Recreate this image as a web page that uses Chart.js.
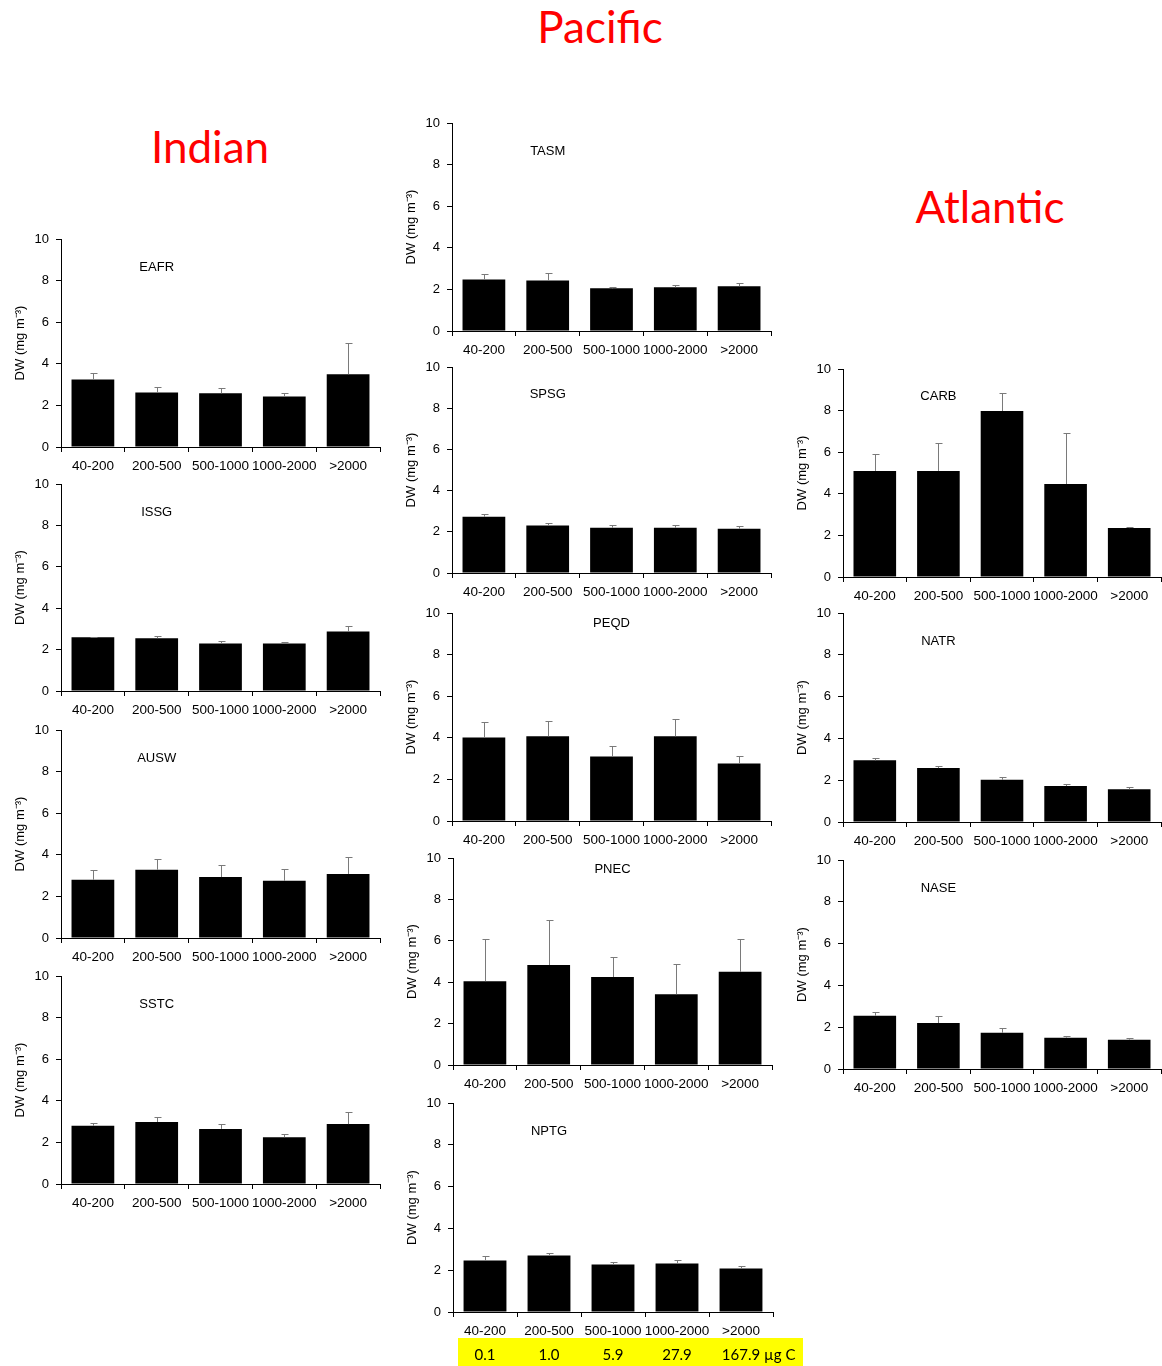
<!DOCTYPE html>
<html><head><meta charset="utf-8">
<script src="https://cdn.jsdelivr.net/npm/chart.js@4.4.1/dist/chart.umd.min.js"></script>
<style>
html,body{margin:0;padding:0;background:#fff;overflow:hidden;width:1162px;height:1366px;}
body{position:relative;}
canvas{position:absolute;}
.region{position:absolute;color:#ff0000;font-family:Lato,"Open Sans",sans-serif;font-size:44px;line-height:1;white-space:nowrap;transform:translateX(-50%);}
</style></head><body>
<div class="region" style="left:600px;top:4px">Pacific</div>
<div class="region" style="left:210px;top:124px">Indian</div>
<div class="region" style="left:990px;top:184px">Atlantic</div>
<script>
// ---- data ----
const sizeClasses = ['40-200', '200-500', '500-1000', '1000-2000', '>2000'];
const carbonContent = ['0.1', '1.0', '5.9', '27.9', '167.9'];
const carbonUnit = ' µg C';
const yTicks = [0, 2, 4, 6, 8, 10];

const eafrMean = [3.25, 2.62, 2.58, 2.43, 3.5];
const eafrErr  = [0.3, 0.26, 0.24, 0.19, 1.5];
const issgMean = [2.6, 2.55, 2.3, 2.3, 2.88];
const issgErr  = [0.03, 0.1, 0.1, 0.07, 0.24];
const auswMean = [2.8, 3.28, 2.93, 2.75, 3.08];
const auswErr  = [0.48, 0.52, 0.59, 0.58, 0.82];
const sstcMean = [2.8, 2.98, 2.65, 2.25, 2.88];
const sstcErr  = [0.15, 0.24, 0.23, 0.13, 0.59];

const tasmMean = [2.48, 2.43, 2.05, 2.1, 2.15];
const tasmErr  = [0.24, 0.34, 0.08, 0.12, 0.18];
const spsgMean = [2.73, 2.3, 2.2, 2.2, 2.15];
const spsgErr  = [0.15, 0.13, 0.13, 0.13, 0.13];
const peqdMean = [4.02, 4.07, 3.1, 4.07, 2.77];
const peqdErr  = [0.76, 0.76, 0.52, 0.81, 0.36];
const pnecMean = [4.05, 4.83, 4.25, 3.42, 4.5];
const pnecErr  = [2.05, 2.17, 0.95, 1.45, 1.6];
const nptgMean = [2.47, 2.7, 2.27, 2.32, 2.08];
const nptgErr  = [0.23, 0.13, 0.13, 0.18, 0.12];

const carbMean = [5.1, 5.1, 7.98, 4.47, 2.35];
const carbErr  = [0.82, 1.32, 0.85, 2.45, 0.07];
const natrMean = [2.95, 2.58, 2.02, 1.72, 1.57];
const natrErr  = [0.11, 0.12, 0.13, 0.08, 0.1];
const naseMean = [2.55, 2.2, 1.73, 1.5, 1.4];
const naseErr  = [0.2, 0.35, 0.24, 0.07, 0.1];

// ---- layout of panels (plot-area edges in page pixels) ----
const panels = [
  {name:'EAFR', mean:eafrMean, err:eafrErr, ax:61, top:239, bottom:447, right:380, tCat:1, tVal:8.65},
  {name:'ISSG', mean:issgMean, err:issgErr, ax:61, top:484, bottom:691, right:380, tCat:1, tVal:8.65},
  {name:'AUSW', mean:auswMean, err:auswErr, ax:61, top:730, bottom:938, right:380, tCat:1, tVal:8.65},
  {name:'SSTC', mean:sstcMean, err:sstcErr, ax:61, top:976, bottom:1184, right:380, tCat:1, tVal:8.65},
  {name:'TASM', mean:tasmMean, err:tasmErr, ax:452, top:123, bottom:331, right:771, tCat:1, tVal:8.65},
  {name:'SPSG', mean:spsgMean, err:spsgErr, ax:452, top:367, bottom:573, right:771, tCat:1, tVal:8.65},
  {name:'PEQD', mean:peqdMean, err:peqdErr, ax:452, top:613, bottom:821, right:771, tCat:2, tVal:9.52},
  {name:'PNEC', mean:pnecMean, err:pnecErr, ax:453, top:858, bottom:1065, right:772, tCat:2, tVal:9.47},
  {name:'NPTG', mean:nptgMean, err:nptgErr, ax:453, top:1103, bottom:1312, right:773, tCat:1, tVal:8.64, carbon:true},
  {name:'CARB', mean:carbMean, err:carbErr, ax:843, top:369, bottom:577, right:1161, tCat:1, tVal:8.67},
  {name:'NATR', mean:natrMean, err:natrErr, ax:843, top:613, bottom:822, right:1161, tCat:1, tVal:8.65},
  {name:'NASE', mean:naseMean, err:naseErr, ax:843, top:860, bottom:1069, right:1161, tCat:1, tVal:8.65}
];

const FONT = '"Liberation Sans", Arial, sans-serif';

const extras = {
  id: 'extras',
  afterDatasetsDraw(chart, args, opts) {
    const ctx = chart.ctx, ys = chart.scales.y, xs = chart.scales.x;
    const ds = chart.data.datasets[0];
    const meta = chart.getDatasetMeta(0);
    ctx.save();
    ctx.strokeStyle = '#7a7a7a';
    ctx.lineWidth = 1;
    meta.data.forEach((bar, i) => {
      const x = Math.round(bar.x) + 0.5;
      const yt = Math.round(ys.getPixelForValue(ds.data[i] + opts.err[i])) + 0.5;
      ctx.beginPath();
      ctx.moveTo(x, bar.y);
      ctx.lineTo(x, yt);
      ctx.moveTo(x - 3, yt);
      ctx.lineTo(x + 4, yt);
      ctx.stroke();
    });
    ctx.fillStyle = '#000';
    ctx.font = '13px ' + FONT;
    ctx.textAlign = 'center';
    ctx.textBaseline = 'middle';
    ctx.fillText(opts.title, xs.getPixelForValue(opts.tCat), ys.getPixelForValue(opts.tVal));
    if (opts.carbon) {
      const b = chart.chartArea.bottom;
      ctx.fillStyle = '#ffff00';
      ctx.fillRect(chart.chartArea.left + 5, b + 26, 345, 28);
      ctx.fillStyle = '#000';
      ctx.font = '15px Lato, "Open Sans", sans-serif';
      carbonContent.forEach((t, i) => {
        const cx = xs.getPixelForValue(i);
        if (i === carbonContent.length - 1) {
          const w = ctx.measureText(t).width;
          ctx.textAlign = 'left';
          ctx.fillText(t + carbonUnit, cx - w / 2, b + 43);
        } else {
          ctx.textAlign = 'center';
          ctx.fillText(t, cx, b + 43);
        }
      });
    }
    ctx.restore();
  }
};

panels.forEach(p => {
  const padR = p.carbon ? 36 : 12;
  const padB = p.carbon ? 30 : 0;
  const padT = 10;
  const yW = 60, xH = 34;
  const c = document.createElement('canvas');
  const W = p.right - p.ax + yW + padR;
  const H = p.bottom - p.top + padT + xH + padB;
  c.width = W; c.height = H;
  c.style.width = W + 'px'; c.style.height = H + 'px';
  c.style.left = (p.ax - yW) + 'px';
  c.style.top = (p.top - padT) + 'px';
  document.body.appendChild(c);
  new Chart(c.getContext('2d'), {
    type: 'bar',
    data: {
      labels: sizeClasses,
      datasets: [{ data: p.mean, backgroundColor: '#000', borderWidth: 0, barPercentage: 0.67, categoryPercentage: 1 }]
    },
    options: {
      responsive: false, animation: false, events: [],
      layout: { padding: { top: padT, right: padR, bottom: padB, left: 0 } },
      plugins: {
        legend: { display: false }, tooltip: { enabled: false },
        extras: { err: p.err, title: p.name, tCat: p.tCat, tVal: p.tVal, carbon: !!p.carbon }
      },
      scales: {
        x: {
          grid: { offset: true, drawOnChartArea: false, drawTicks: true, tickLength: 5, color: '#000' },
          border: { color: '#000', width: 1 },
          ticks: { color: '#000', font: { family: FONT, size: 13.5 }, padding: 6, maxRotation: 0, autoSkip: false },
          afterFit: s => { s.height = xH; s.paddingLeft = 0; s.paddingRight = 0; }
        },
        y: {
          min: 0, max: 10,
          afterBuildTicks: s => { s.ticks = yTicks.map(v => ({ value: v })); },
          grid: { drawOnChartArea: false, drawTicks: true, tickLength: 5, color: '#000' },
          border: { color: '#000', width: 1 },
          ticks: { color: '#000', font: { family: FONT, size: 13 }, padding: 7 },
          title: { display: true, text: 'DW (mg m⁻³)', color: '#000', font: { family: FONT, size: 13 }, padding: { top: 12, bottom: 0 } },
          afterFit: s => { s.width = yW; s.paddingTop = 0; s.paddingBottom = 0; }
        }
      }
    },
    plugins: [extras]
  });
});
</script>
</body></html>
